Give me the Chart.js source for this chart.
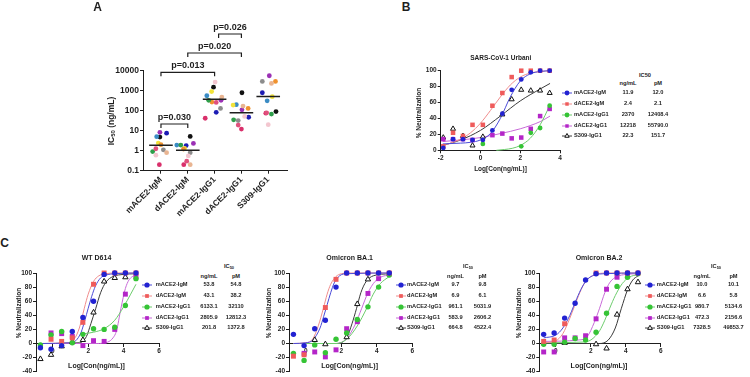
<!DOCTYPE html>
<html>
<head>
<meta charset="utf-8">
<script src="https://cdn.jsdelivr.net/npm/chart.js@4.4.1/dist/chart.umd.min.js"></script>
<style>
    html, body { margin: 0; padding: 0; background: #fff; }
    #fig {
        position: relative; width: 750px; height: 377px; overflow: hidden;
        font-family: "Liberation Sans", Arial, Helvetica, sans-serif;
        font-weight: bold; color: #1e1e1e;
    }
    #fig canvas { position: absolute; }
    .t { position: absolute; white-space: nowrap; line-height: 1; transform: translate(-50%, -50%); }
    .t.v { transform: translate(-50%, -50%) rotate(-90deg); }
    .t.l { transform: translate(0, -50%); }
    .t sub { font-size: 70%; vertical-align: -0.25em; line-height: 0; }
    #fig svg { position: absolute; overflow: visible; }
</style>
</head>
<body>
<div id="fig"></div>
<script>
// ---- Panel A: IC50 je Spender (ng/mL) ----
const groupsA = ['mACE2-IgM', 'dACE2-IgM', 'mACE2-IgG1', 'dACE2-IgG1', 'S309-IgG1'];
const ticksA = [0.1, 1, 10, 100, 1000, 10000];
const donorColors = ['#9b30b5', '#1c1cb4', '#111111', '#3a8cc4', '#f2e33a', '#f0922e',
                     '#2e9e4a', '#8c8c8c', '#d9306b', '#f3c6cf', '#e9b592', '#e0507c'];

const ic50_mACE2_IgM  = [8.3, 7.5, 4.8, 5.0, 2.4, 2.0, 0.9, 1.1, 0.2, 0.6, 0.8, 1.25];
const ic50_dACE2_IgM  = [2.3, 1.8, 5.2, 1.9, 1.3, 1.2, 1.9, 0.8, 0.2, 0.55, 0.2, 0.3];
const ic50_mACE2_IgG1 = [330, 83, 1500, 560, 900, 270, 330, 130, 42, 2700, 480, 260];
const ic50_dACE2_IgG1 = [110, 47, 790, 200, 190, 130, 35, 32, 12, 52, 170, 19];
const ic50_S309_IgG1  = [5600, 790, 90, 310, 500, 2900, 68, 2900, 75, 20, 2300, 78];

const jitter_mACE2_IgM  = [-0.04, 0.21, -0.04, -0.16, -0.1, 0, -0.31, 0.09, -0.06, -0.19, 0.21, -0.19];
const jitter_dACE2_IgM  = [0.21, -0.06, 0.09, -0.41, -0.12, -0.16, -0.26, 0.09, -0.15, 0.02, 0.09, -0.04];
const jitter_mACE2_IgG1 = [0.24, 0.06, -0.04, -0.29, -0.11, -0.1, -0.22, 0.22, -0.35, 0.02, 0.27, 0.06];
const jitter_dACE2_IgG1 = [0.02, 0.27, 0.02, -0.19, -0.31, 0.25, -0.29, -0.12, 0.0, 0.12, 0.06, -0.12];
const jitter_S309_IgG1  = [0.04, -0.22, 0.29, -0.04, 0.15, 0.27, 0.12, -0.22, -0.09, 0.0, 0.12, -0.06];

const mediansA = [1.85, 1.05, 370, 78, 520];

const bracketPairs  = [[0, 1], [0, 2], [1, 3], [2, 3]];
const bracketLabels = ['p=0.030', 'p=0.013', 'p=0.020', 'p=0.026'];

// ---- Panel B / C: Neutralisation (%) ueber Log[Konz.] ----
const seriesNames = ['mACE2-IgM', 'dACE2-IgM', 'mACE2-IgG1', 'dACE2-IgG1', 'S309-IgG1'];

const logConcB = [-1.87, -1.38, -0.88, -0.4, 0.12, 0.6, 1.1, 1.57, 2.05, 2.53, 3.0, 3.48];
const urbani_mACE2_IgM  = [3, 14, 14, 13, 13, 25, 46, 76, 89, 98, 100, 100];
const urbani_dACE2_IgM  = [5, 22, 18, 32, 32, 56, 72, 92, 100, 100, 100, 100];
const urbani_mACE2_IgG1 = [null, null, null, null, 8, null, null, null, 5, 22, 28, 56];
const urbani_dACE2_IgG1 = [14, 14, 14, 13, null, 19, 21, 15, 16, 27, 43, 52];
const urbani_S309_IgG1  = [16, 27, 18, 6, 17, null, 45, 64, 76, 75, 75, 72];

const logConcC = [-0.7, -0.1, 0.5, 1.1, 1.7, 2.3, 2.9, 3.5, 4.1, 4.7];
const wt_mACE2_IgM  = [-6, -8, -3, 17, 37, 60, 98, 100, 100, 100];
const wt_dACE2_IgM  = [null, 6, 3, 8, 30, 84, 100, 100, 100, 100];
const wt_mACE2_IgG1 = [-2, 12, 17, 1, 13, 21, 20, 23, 54, 92];
const wt_dACE2_IgG1 = [null, 15, 14, 10, -3, 4, 3, 20, 70, 95];
const wt_S309_IgG1  = [-22, -16, -4, 2, 5, 44, 88, 93, 94, null];

const ba1_mACE2_IgM  = [13, -3, 21, 33, 80, 100, 100, 100, 100, 100];
const ba1_dACE2_IgM  = [-18, -16, null, 51, 91, 100, 100, 100, 100, 100];
const ba1_mACE2_IgG1 = [-14, -24, -2, -13, 6, 15, 34, 52, 80, 97];
const ba1_dACE2_IgG1 = [null, -14, -12, -19, -9, 21, 31, 71, 92, 99];
const ba1_S309_IgG1  = [null, null, 5, -1, null, 9, 56, 91, null, null];

const ba2_mACE2_IgM  = [13, 15, 36, 57, 90, 99, 100, 100, 100, 100];
const ba2_dACE2_IgM  = [3, 5, 28, null, null, 100, 100, 100, 100, 100];
const ba2_mACE2_IgG1 = [-1, -1, 2, 7, 5, 16, 43, 81, 94, 99];
const ba2_dACE2_IgG1 = [-12, -12, 8, 8, 11, 35, 77, 94, 99, null];
const ba2_S309_IgG1  = [null, null, 1, null, null, -1, -7, 41, 77, 87];

// Fitkurven: [logKonz, %]
const fitB_mACE2_IgM  = [[-1.9, 8], [-1, 9], [-0.5, 10], [0, 13], [0.5, 21], [1, 40], [1.5, 67], [2, 87], [2.5, 96], [3, 99], [3.5, 100]];
const fitB_dACE2_IgM  = [[-1.9, 6], [-1.5, 9], [-1, 14], [-0.5, 22], [0, 34], [0.5, 50], [1, 67], [1.5, 82], [2, 92], [2.5, 97], [3, 99], [3.5, 100]];
const fitB_mACE2_IgG1 = [[0.8, 0], [1.2, 1], [1.6, 2.5], [2, 6], [2.5, 15], [3, 32], [3.5, 57]];
const fitB_dACE2_IgG1 = [[-1.9, 11], [-1, 13], [0, 16], [1, 21], [2, 27], [3, 36], [3.5, 43]];
const fitB_S309_IgG1  = [[-1.9, 6], [-1, 13], [0, 25], [1, 43], [2, 62], [3, 77], [3.5, 84]];

const fitWT_mACE2_IgM  = [[-0.7, 0], [1, 1], [1.3, 4], [1.6, 16], [1.8, 32], [2.0, 50], [2.2, 67], [2.4, 81], [2.7, 93], [3, 97], [3.5, 99], [4.7, 100]];
const fitWT_dACE2_IgM  = [[-0.7, 0], [0.8, 1], [1.2, 6], [1.5, 22], [1.78, 50], [2.0, 70], [2.3, 88], [2.6, 96], [3, 99], [3.5, 100], [4.7, 100]];
const fitWT_mACE2_IgG1 = [[1.8, 14], [2.3, 16], [2.9, 21], [3.5, 33], [4.0, 52], [4.4, 70], [4.7, 84]];
const fitWT_dACE2_IgG1 = [[-0.7, 0], [2.5, 0], [3.1, 2], [3.4, 8], [3.6, 18], [3.85, 50], [4.1, 78], [4.3, 90], [4.5, 95], [4.7, 97]];
const fitWT_S309_IgG1  = [[-0.7, 0], [1.5, 1], [1.9, 10], [2.15, 28], [2.43, 50], [2.7, 72], [3.0, 87], [3.4, 95], [4.0, 98], [4.7, 99]];

const fitBA1_mACE2_IgM  = [[-0.7, 0], [0, 1], [0.4, 5], [0.8, 22], [1.0, 38], [1.2, 55], [1.4, 72], [1.6, 86], [1.9, 96], [2.3, 99], [4.7, 100]];
const fitBA1_dACE2_IgM  = [[-0.7, 0], [0, 1], [0.4, 7], [0.7, 25], [0.99, 50], [1.2, 70], [1.4, 84], [1.7, 95], [2.0, 99], [2.4, 100], [4.7, 100]];
const fitBA1_mACE2_IgG1 = [[-0.7, 0], [1.7, 0], [2.3, 6], [2.9, 25], [3.43, 50], [3.8, 70], [4.2, 85], [4.7, 95]];
const fitBA1_dACE2_IgG1 = [[-0.7, 0], [1.7, 0], [2.3, 7], [2.8, 28], [3.15, 50], [3.5, 72], [3.9, 88], [4.3, 95], [4.7, 97]];
const fitBA1_S309_IgG1  = [[-0.7, 0], [1.7, 0], [2.3, 8], [2.6, 28], [2.86, 50], [3.1, 72], [3.4, 88], [3.8, 96], [4.7, 99]];

const fitBA2_mACE2_IgM  = [[-0.7, 8], [0, 12], [0.4, 22], [0.8, 40], [1.0, 52], [1.2, 64], [1.5, 80], [1.8, 91], [2.2, 97], [2.8, 99], [4.7, 100]];
const fitBA2_dACE2_IgM  = [[-0.7, 1], [0, 4], [0.4, 14], [0.8, 36], [1.05, 52], [1.3, 68], [1.6, 84], [1.9, 93], [2.3, 98], [2.8, 100], [4.7, 100]];
const fitBA2_mACE2_IgG1 = [[-0.7, 1], [1.5, 2], [2.0, 5], [2.5, 18], [2.8, 33], [3.08, 50], [3.4, 68], [3.8, 85], [4.2, 94], [4.7, 98]];
const fitBA2_dACE2_IgG1 = [[-0.7, 3], [1.3, 5], [1.8, 10], [2.2, 30], [2.5, 50], [2.8, 72], [3.1, 87], [3.5, 95], [4.0, 98], [4.7, 99]];
const fitBA2_S309_IgG1  = [[-0.7, 0], [2.5, 0], [3.0, 5], [3.4, 22], [3.75, 50], [4.1, 76], [4.4, 90], [4.7, 96]];

// IC50-Tabellen (Texte wie im Original)
const ic50B_ng   = ['11.9', '2.4', '2370', '12218', '22.3'];
const ic50B_pM   = ['12.0', '2.1', '12408.4', '55790.0', '151.7'];
const ic50WT_ng  = ['53.8', '43.1', '6133.1', '2805.9', '201.8'];
const ic50WT_pM  = ['54.8', '38.2', '32110', '12812.3', '1372.8'];
const ic50BA1_ng = ['9.7', '6.9', '961.1', '583.9', '664.8'];
const ic50BA1_pM = ['9.8', '6.1', '5031.9', '2606.2', '4522.4'];
const ic50BA2_ng = ['10.0', '6.6', '980.7', '472.3', '7328.5'];
const ic50BA2_pM = ['10.1', '5.8', '5134.6', '2156.6', '49853.7'];

const ticksB_x = [-2, 0, 2, 4];
const ticksC_x = [0, 2, 4, 6];

// ---- Stil ----
const FONT = '"Liberation Sans", Arial, Helvetica, sans-serif';
const INK = '#1e1e1e';
const seriesColors = ['#2222d2', '#ef5b5b', '#35c435', '#b425c8', '#111111'];
const curveColors  = ['#4a4ad8', '#f08c8c', '#6ccc6c', '#c86ad8', '#3a3a3a'];
const seriesStyles = ['circle', 'rect', 'circle', 'rect', 'triangle'];
const LEGEND_SIZE = 5.7;

Chart.defaults.font.family = FONT;
const fig = document.getElementById('fig');

function makeCanvas(left, top, w, h) {
    const c = document.createElement('canvas');
    c.width = w; c.height = h;
    c.style.left = left + 'px'; c.style.top = top + 'px';
    c.style.width = w + 'px'; c.style.height = h + 'px';
    fig.appendChild(c);
    return c.getContext('2d');
}

function text(html, x, y, size, mode) {
    const d = document.createElement('div');
    d.className = 't' + (mode ? ' ' + mode : '');
    d.style.left = x + 'px';
    d.style.top = y + 'px';
    d.style.fontSize = size + 'px';
    d.innerHTML = html;
    fig.appendChild(d);
}

function axisStyle(size) {
    return {
        border: { display: true, color: INK, width: 1 },
        grid: { display: true, drawOnChartArea: false, drawTicks: true, tickLength: 3, tickColor: INK, color: INK },
        ticks: { color: INK, padding: 1, font: { family: FONT, size: size, weight: 'bold' } }
    };
}

const baseOptions = {
    responsive: false,
    animation: false,
    events: [],
    plugins: { legend: { display: false }, tooltip: { enabled: false } }
};

// ---- Panel A ----
const bracketY = [124, 72.3, 53, 34];      // Pixelhoehe der Klammern
const bracketInsetLeft = [0, 0, 0, 4];
const medianHalfWidth = 0.44;

const bracketPlugin = {
    id: 'brackets',
    afterDraw(chart) {
        const { ctx, scales: { x } } = chart;
        ctx.save();
        ctx.strokeStyle = INK;
        ctx.fillStyle = INK;
        ctx.lineWidth = 1.2;
        ctx.font = 'bold 9px ' + FONT;
        ctx.textAlign = 'center';
        ctx.textBaseline = 'alphabetic';
        bracketPairs.forEach(([a, b], i) => {
            const x1 = x.getPixelForValue(a) + bracketInsetLeft[i];
            const x2 = x.getPixelForValue(b);
            const y = bracketY[i];
            ctx.beginPath();
            ctx.moveTo(x1, y + 4);
            ctx.lineTo(x1, y);
            ctx.lineTo(x2, y);
            ctx.lineTo(x2, y + 4);
            ctx.stroke();
            ctx.fillText(bracketLabels[i], (x1 + x2) / 2, y - 4.3);
        });
        ctx.restore();
    }
};

const groupValuesA = [ic50_mACE2_IgM, ic50_dACE2_IgM, ic50_mACE2_IgG1, ic50_dACE2_IgG1, ic50_S309_IgG1];
const groupJitterA = [jitter_mACE2_IgM, jitter_dACE2_IgM, jitter_mACE2_IgG1, jitter_dACE2_IgG1, jitter_S309_IgG1];

const datasetsA = groupValuesA.map((vals, g) => ({
    data: vals.map((v, k) => ({ x: g + groupJitterA[g][k], y: v })),
    pointRadius: 2.4,
    pointBackgroundColor: donorColors,
    pointBorderWidth: 0,
    clip: false,
    order: 1
}));
mediansA.forEach((m, g) => {
    datasetsA.push({
        data: [{ x: g - medianHalfWidth, y: m }, { x: g + medianHalfWidth, y: m }],
        showLine: true,
        pointRadius: 0,
        borderColor: INK,
        borderWidth: 1.5,
        order: -1
    });
});

const axA = axisStyle(8.5);
new Chart(makeCanvas(90, 0, 220, 230), {
    type: 'scatter',
    data: { datasets: datasetsA },
    options: {
        ...baseOptions,
        layout: { padding: { top: 70.7, right: 23, left: 0, bottom: 0 } },
        scales: {
            x: {
                type: 'linear', min: -0.67, max: 4.7,
                border: axA.border, grid: axA.grid,
                afterFit: s => { s.height = 59.3; },
                afterBuildTicks: s => { s.ticks = groupsA.map((g, i) => ({ value: i })); },
                ticks: { ...axA.ticks, autoSkip: false, minRotation: 45, maxRotation: 45,
                         callback: v => groupsA[v] }
            },
            y: {
                type: 'logarithmic', min: 0.1, max: 10000,
                border: axA.border, grid: axA.grid,
                afterFit: s => { s.width = 53; },
                afterBuildTicks: s => { s.ticks = ticksA.map(v => ({ value: v })); },
                ticks: { ...axA.ticks, callback: v => String(v) }
            }
        }
    },
    plugins: [bracketPlugin]
});

text('A', 97.5, 7, 12);
text('IC<sub>50</sub> (ng/mL)', 110.5, 121, 8.5, 'v');

// ---- Dosis-Wirkungs-Diagramme ----
function doseChart(ctx, cfg) {
    const datasets = [];
    cfg.points.forEach((vals, i) => {
        const style = seriesStyles[i];
        datasets.push({
            data: vals.map((v, k) => ({ x: cfg.xs[k], y: v })),
            pointStyle: style,
            pointRadius: cfg.radius[style],
            pointBackgroundColor: style === 'triangle' ? '#ffffff' : seriesColors[i],
            pointBorderColor: style === 'triangle' ? '#111111' : seriesColors[i],
            pointBorderWidth: style === 'triangle' ? 1 : 0,
            clip: false,
            order: i
        });
    });
    cfg.fits.forEach((fit, i) => {
        datasets.push({
            data: fit.map(([x, y]) => ({ x, y })),
            showLine: true,
            pointRadius: 0,
            borderColor: curveColors[i],
            borderWidth: 1,
            cubicInterpolationMode: 'monotone',
            clip: false,
            order: 10 + i
        });
    });

    const ax = axisStyle(6.5);
    new Chart(ctx, {
        type: 'scatter',
        data: { datasets },
        options: {
            ...baseOptions,
            layout: { padding: cfg.padding },
            scales: {
                x: {
                    type: 'linear', min: cfg.xMin, max: cfg.xMax, position: cfg.xPosition,
                    border: ax.border, grid: ax.grid,
                    afterFit: cfg.xHeight ? (s => { s.height = cfg.xHeight; }) : undefined,
                    afterBuildTicks: s => { s.ticks = cfg.xTicks.map(v => ({ value: v })); },
                    ticks: { ...ax.ticks, autoSkip: false, maxRotation: 0 }
                },
                y: {
                    type: 'linear', min: cfg.yMin, max: 100,
                    border: ax.border, grid: ax.grid,
                    afterFit: s => { s.width = cfg.yWidth; },
                    ticks: { ...ax.ticks, stepSize: 20 }
                }
            }
        }
    });
}

function markerSvg(i, cx, cy, r) {
    const style = seriesStyles[i];
    let shape;
    if (style === 'circle') {
        shape = `<circle cx="6" cy="5" r="${r}" fill="${seriesColors[i]}"/>`;
    } else if (style === 'rect') {
        const h = r * 0.72;
        shape = `<rect x="${6 - h}" y="${5 - h}" width="${2 * h}" height="${2 * h}" fill="${seriesColors[i]}"/>`;
    } else {
        const s = r * 1.05;
        shape = `<polygon points="6,${5 - s} ${6 + s * 0.87},${5 + s * 0.5} ${6 - s * 0.87},${5 + s * 0.5}" fill="#fff" stroke="#111" stroke-width="1"/>`;
    }
    const line = `<line x1="1" y1="5" x2="11" y2="5" stroke="${curveColors[i]}" stroke-width="1"/>`;
    fig.insertAdjacentHTML('beforeend',
        `<svg width="12" height="10" style="left:${cx - 6}px;top:${cy - 5}px">${line}${shape}</svg>`);
}

function ic50Table(t) {
    text(t.headerHtml, t.icX, t.headY, LEGEND_SIZE);
    text('ng/mL', t.ngX, t.subY, LEGEND_SIZE);
    text('pM', t.pmX, t.subY, LEGEND_SIZE);
    seriesNames.forEach((name, i) => {
        const y = t.rows[i];
        markerSvg(i, t.markX, y, t.markR);
        text(name, t.nameX, y, LEGEND_SIZE, 'l');
        text(t.ng[i], t.ngX, y, LEGEND_SIZE);
        text(t.pm[i], t.pmX, y, LEGEND_SIZE);
    });
}

// ---- Panel B ----
doseChart(makeCanvas(400, 60, 170, 110), {
    xs: logConcB,
    points: [urbani_mACE2_IgM, urbani_dACE2_IgM, urbani_mACE2_IgG1, urbani_dACE2_IgG1, urbani_S309_IgG1],
    fits: [fitB_mACE2_IgM, fitB_dACE2_IgM, fitB_mACE2_IgG1, fitB_dACE2_IgG1, fitB_S309_IgG1],
    xMin: -2, xMax: 4, xTicks: ticksB_x, xPosition: 'bottom', xHeight: 19.7,
    yMin: 0, yWidth: 40.7,
    padding: { top: 10.7, right: 10, left: 0, bottom: 0 },
    radius: { circle: 2.4, rect: 3.2, triangle: 2.9 }
});
text('B', 406, 7, 12);
text('SARS-CoV-1 Urbani', 500.8, 57.7, 6.5);
text('% Neutralization', 419.3, 113, 6.5, 'v');
text('Log[Con(ng/mL)]', 500.5, 169.3, 6.5);
ic50Table({
    headerHtml: 'IC50', icX: 645, headY: 76, subY: 83.5, ngX: 628, pmX: 658,
    rows: [93.3, 104.3, 115.3, 125.7, 136], markX: 566.7, markR: 2.4, nameX: 574,
    ng: ic50B_ng, pm: ic50B_pM
});

// ---- Panel C ----
const rowsC = [285, 295.7, 306.7, 317.7, 328.3];
const radiusC = { circle: 2.7, rect: 3.5, triangle: 3.1 };

const panelsC = [
    { left: 0, yWidth: 36, right: 11, title: 'WT D614',
      points: [wt_mACE2_IgM, wt_dACE2_IgM, wt_mACE2_IgG1, wt_dACE2_IgG1, wt_S309_IgG1],
      fits: [fitWT_mACE2_IgM, fitWT_dACE2_IgM, fitWT_mACE2_IgG1, fitWT_dACE2_IgG1, fitWT_S309_IgG1],
      ng: ic50WT_ng, pm: ic50WT_pM,
      markX: 146.5, nameX: 155.7, ngX: 209, pmX: 236, icX: 229 },
    { left: 250, yWidth: 39, right: 7.7, title: 'Omicron BA.1',
      points: [ba1_mACE2_IgM, ba1_dACE2_IgM, ba1_mACE2_IgG1, ba1_dACE2_IgG1, ba1_S309_IgG1],
      fits: [fitBA1_mACE2_IgM, fitBA1_dACE2_IgM, fitBA1_mACE2_IgG1, fitBA1_dACE2_IgG1, fitBA1_S309_IgG1],
      ng: ic50BA1_ng, pm: ic50BA1_pM,
      markX: 400.5, nameX: 407, ngX: 455.5, pmX: 482.5, icX: 468 },
    { left: 500, yWidth: 39.3, right: 9.3, title: 'Omicron BA.2',
      points: [ba2_mACE2_IgM, ba2_dACE2_IgM, ba2_mACE2_IgG1, ba2_dACE2_IgG1, ba2_S309_IgG1],
      fits: [fitBA2_mACE2_IgM, fitBA2_dACE2_IgM, fitBA2_mACE2_IgG1, fitBA2_dACE2_IgG1, fitBA2_S309_IgG1],
      ng: ic50BA2_ng, pm: ic50BA2_pM,
      markX: 649.5, nameX: 656.7, ngX: 702, pmX: 733.5, icX: 716 }
];

text('C', 4.5, 243, 12);

panelsC.forEach(p => {
    doseChart(makeCanvas(p.left, 262, 170, 115), {
        xs: logConcC,
        points: p.points,
        fits: p.fits,
        xMin: -0.95, xMax: 6, xTicks: ticksC_x, xPosition: { y: 0 },
        yMin: -40, yWidth: p.yWidth,
        padding: { top: 11, right: p.right, left: 0, bottom: 5.3 },
        radius: radiusC
    });
    const mid = p.left + p.yWidth + (170 - p.yWidth - p.right) / 2 - 1;
    text(p.title, mid, 257, 7);
    text('% Neutralization', p.left + 19, 312.5, 6.5, 'v');
    text('Log[Con(ng/mL)]', mid, 364.5, 7);
    ic50Table({
        headerHtml: 'IC<sub>50</sub>', icX: p.icX, headY: 266.7, subY: 276.5,
        ngX: p.ngX, pmX: p.pmX, rows: rowsC, markX: p.markX, markR: 2.6, nameX: p.nameX,
        ng: p.ng, pm: p.pm
    });
});
</script>
</body>
</html>
